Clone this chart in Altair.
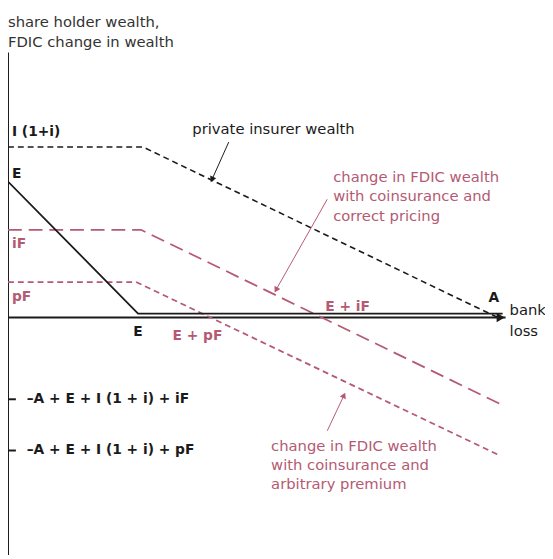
import altair as alt
import pandas as pd

# ---- data (abstract units) ----
sh_x = [0, 132, 502]
sh_y = [138, 4, 4]            # share holder wealth
pi_x = [0, 137, 497]
pi_y = [173, 173, 0]          # private insurer wealth
if_x = [0, 135, 500]
if_y = [89, 89, -88]          # change in FDIC wealth, correct pricing
pf_x = [0, 130, 499]
pf_y = [36, 36, -140]         # change in FDIC wealth, arbitrary premium

tick_vals = [-83, -135]
tick_labels = ["–A + E + I (1 + i) + iF", "–A + E + I (1 + i) + pF"]

BLACK = "#1a1a1a"
RED = "#b45a72"
FONT = "DejaVu Sans"

X_DOM = [0, 545]
Y_DOM = [-241, 310]

def xs():
    return alt.X("x:Q", scale=alt.Scale(domain=X_DOM, nice=False, zero=False), axis=None)

def ys():
    return alt.Y("y:Q", scale=alt.Scale(domain=Y_DOM, nice=False, zero=False), axis=None)

def line(xv, yv, color, width, dash=None):
    df = pd.DataFrame({"x": xv, "y": yv, "o": list(range(len(xv)))})
    kw = dict(color=color, strokeWidth=width, clip=False)
    if dash:
        kw["strokeDash"] = dash
    return alt.Chart(df).mark_line(**kw).encode(x=xs(), y=ys(), order="o:Q")

# axes
y_axis = alt.Chart(pd.DataFrame({"x": [0], "y": [-241], "y2": [269]})).mark_rule(
    color=BLACK, strokeWidth=2).encode(x=xs(), y=ys(), y2="y2:Q")
x_axis = alt.Chart(pd.DataFrame({"x": [0], "x2": [505], "y": [0]})).mark_rule(
    color=BLACK, strokeWidth=2).encode(x=xs(), x2="x2:Q", y=ys())
x_head = alt.Chart(pd.DataFrame({"x": [500], "y": [0]})).mark_point(
    shape="triangle-right", filled=True, color=BLACK, size=90, opacity=1).encode(x=xs(), y=ys())

# y ticks
ticks = alt.Chart(pd.DataFrame({"x": [0, 0], "x2": [8, 8], "y": tick_vals})).mark_rule(
    color=BLACK, strokeWidth=2).encode(x=xs(), x2="x2:Q", y=ys())
tick_text = alt.Chart(pd.DataFrame({"x": [19, 19], "y": tick_vals, "t": tick_labels})).mark_text(
    align="left", baseline="middle", font=FONT, fontSize=14, fontWeight="bold", color=BLACK
).encode(x=xs(), y=ys(), text="t:N")

# lines
l_sh = line(sh_x, sh_y, BLACK, 1.8)
l_pi = line(pi_x, pi_y, BLACK, 1.6, [6, 4])
l_if = line(if_x, if_y, RED, 1.8, [14, 7])
l_pf = line(pf_x, pf_y, RED, 1.8, [6, 4])

# annotation texts
def texts(items, color, weight="normal", size=15, align="left"):
    df = pd.DataFrame(items, columns=["x", "y", "t"])
    return alt.Chart(df).mark_text(
        align=align, baseline="middle", font=FONT, fontSize=size, fontWeight=weight, color=color
    ).encode(x=xs(), y=ys(), text="t:N")

title_t = texts([(0, 300, "share holder wealth,"), (0, 280, "FDIC change in wealth")], "#333333")
black_bold = texts([(4, 188, "I (1+i)"), (4, 146, "E")], BLACK, "bold", 14)
e_mid = texts([(132, -15, "E")], BLACK, "bold", 14, "center")
a_lab = texts([(493, 20, "A")], BLACK, "bold", 14, "center")
bank = texts([(509, 8, "bank"), (509, -14, "loss")], BLACK)
priv = texts([(187, 191, "private insurer wealth")], BLACK)
red_bold = texts([(4, 75, "iF"), (4, 21, "pF"), (167, -19, "E + pF"), (322, 11, "E + iF")], RED, "bold", 14)
red_up = texts([(330, 143, "change in FDIC wealth"), (330, 123, "with coinsurance and"),
                (330, 103, "correct pricing")], RED)
red_low = texts([(267, -131, "change in FDIC wealth"), (267, -150, "with coinsurance and"),
                 (267, -169, "arbitrary premium")], RED)

# pointer arrows
def arrow(x1, y1, x2, y2, ang, color, w=1.0):
    shaft = alt.Chart(pd.DataFrame({"x": [x1], "y": [y1], "x2": [x2], "y2": [y2]})).mark_rule(
        color=color, strokeWidth=w).encode(x=xs(), y=ys(), x2="x2:Q", y2="y2:Q")
    head = alt.Chart(pd.DataFrame({"x": [x2], "y": [y2]})).mark_point(
        shape="triangle-up", filled=True, color=color, size=45, angle=ang, opacity=1).encode(x=xs(), y=ys())
    return shaft + head

a1 = arrow(224, 178, 207, 140, 205, BLACK)
a2 = arrow(324, 120, 272, 28, 209, RED)
a3 = arrow(324, -115, 341, -79, 25, RED)

chart = alt.layer(
    y_axis, x_axis, x_head, ticks, tick_text,
    l_pi, l_if, l_pf, l_sh,
    title_t, black_bold, e_mid, a_lab, bank, priv, red_bold, red_up, red_low,
    a1, a2, a3,
).properties(
    width=545, height=551, padding=0, autosize=alt.AutoSizeParams(type="none"),
    view=alt.ViewBackground(stroke="transparent", strokeOpacity=0),
).configure_view(stroke="transparent", strokeOpacity=0).configure(background="white")

chart.save("out.html", embed_options={"renderer": "svg", "actions": False})
